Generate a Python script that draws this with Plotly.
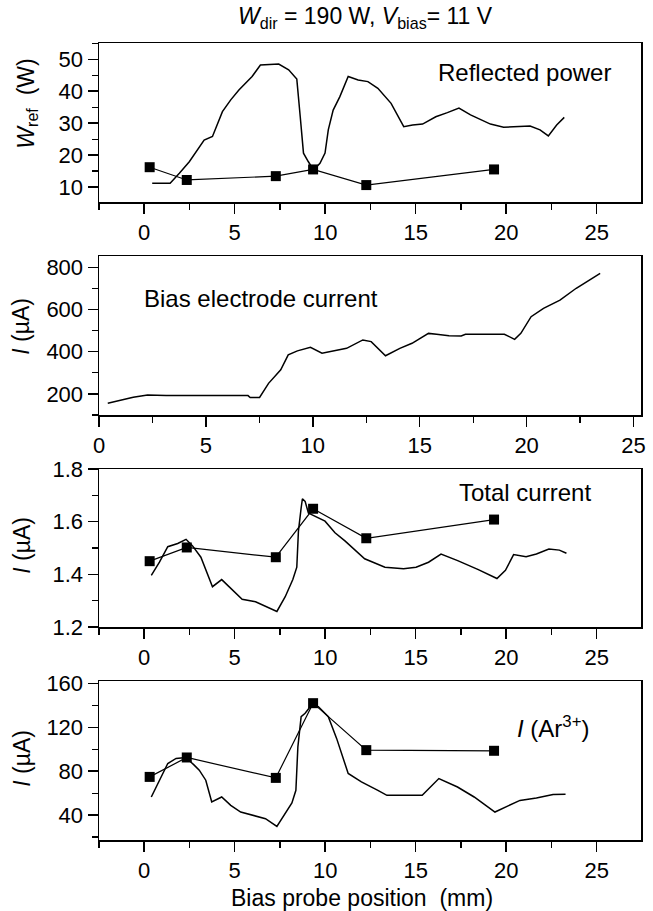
import plotly.graph_objects as go

# ---------------- data ----------------
probe_pos = [0.3, 2.35, 7.27, 9.33, 12.27, 19.33]

ref_x = [0.44, 1.43, 1.94, 2.49, 3.31, 3.77, 4.32, 4.78, 5.23, 5.96, 6.42, 7.06, 7.43, 7.98, 8.43,
         8.62, 8.8, 9.07, 9.36, 9.71, 9.99, 10.17, 10.44, 10.81, 11.27, 11.82, 12.36, 12.91, 13.64,
         14.34, 14.83, 15.38, 16.11, 16.75, 17.39, 18.03, 19.13, 19.86, 20.59, 21.32, 21.87, 22.33,
         22.79, 23.21]
ref_y = [11.2, 11.2, 14.3, 17.9, 24.7, 25.8, 33.6, 37.3, 40.4, 44.6, 48.2, 48.5, 48.5, 46.7, 43.8,
         32, 20.6, 17.9, 15.3, 17.4, 20.6, 27.9, 34.1, 38.3, 44.6, 43.5, 43, 40.9, 36.2,
         28.9, 29.4, 29.7, 32, 33.3, 34.7, 32.6, 29.7, 28.7, 28.9, 29.1, 27.9, 26,
         29.4, 31.8]
ref_probe = [16.2, 12.2, 13.4, 15.5, 10.6, 15.5]

bias_x = [0.41, 1.02, 1.6, 2.27, 3.14, 6.97, 7.07, 7.51, 7.93, 8.5, 8.85, 9.28, 9.89, 10.43, 11.0,
          11.58, 12.34, 12.73, 13.4, 14.07, 14.64, 15.41, 15.79, 16.37, 16.94, 17.14, 18.96, 19.44,
          19.73, 20.21, 20.79, 21.56, 22.32, 23.09, 23.44]
bias_y = [156, 172, 184, 195, 192, 192, 183, 183, 250, 314, 385, 404, 421, 393, 405,
          416, 456, 448, 381, 416, 440, 487, 483, 476, 475, 483, 483, 459,
          487, 566, 606, 645, 701, 748, 772]

tot_x = [0.39, 0.84, 1.3, 1.85, 2.31, 2.67, 3.13, 3.5, 3.77, 4.28, 4.87, 5.41, 6.15, 6.7, 7.33,
         7.79, 8.21, 8.43, 8.52, 8.67, 8.74, 8.89, 9.07, 9.25, 9.99, 10.54, 11.09, 12.18, 12.91,
         13.3, 14.33, 15.02, 15.71, 16.4, 17.32, 18.46, 19.49, 19.96, 20.41, 21.1, 21.67, 22.36,
         22.94, 23.33]
tot_y = [1.396, 1.446, 1.505, 1.517, 1.533, 1.508, 1.465, 1.403, 1.353, 1.38, 1.34, 1.305, 1.296,
         1.278, 1.259, 1.315, 1.38, 1.427, 1.564, 1.652, 1.687, 1.677, 1.633, 1.627, 1.602, 1.558,
         1.527, 1.459, 1.437, 1.427, 1.421, 1.427, 1.446, 1.477, 1.452, 1.418, 1.384, 1.415, 1.475,
         1.467, 1.477, 1.496, 1.492, 1.48]
tot_probe = [1.45, 1.502, 1.465, 1.649, 1.537, 1.608]

ar_x = [0.39, 0.84, 1.3, 1.76, 2.31, 2.76, 3.04, 3.4, 3.73, 4.28, 4.78, 5.33, 5.96, 6.7, 7.33,
        7.79, 8.16, 8.38, 8.49, 8.67, 8.89, 9.25, 9.62, 10.17, 10.63, 11.27, 12.0, 12.91, 13.41,
        15.36, 16.28, 17.31, 18.23, 19.38, 19.96, 20.76, 21.67, 22.59, 23.28]
ar_y = [56.5, 71.8, 87, 91.6, 92.5, 85.5, 80.9, 71.8, 51.9, 56.5, 48.9, 42.8, 39.7, 36.7, 29.7,
        41.3, 51, 62.6, 102.2, 129.7, 132.8, 140.4, 138.9, 129.7, 109.9, 77.9, 70.2, 62.6, 58,
        58, 73.3, 65.6, 56.5, 42.8, 47.3, 53.4, 55.6, 58.7, 59]
ar_probe = [74.8, 92.5, 73.9, 142, 99.2, 98.6]

# ---------------- figure ----------------
FONT = "Liberation Sans, Arial, sans-serif"
W, H = 653, 911
ML, MR, MT, MB = 99, 7, 43, 71
PW, PH = W - ML - MR, H - MT - MB


def px(x):
    return (x - ML) / PW


def py(y):
    return (H - MB - y) / PH


fig = go.Figure()

line_style = dict(color="black", width=1.5)
sq_style = dict(symbol="square", size=10, color="black")

panels = [
    (ref_x, ref_y, ref_probe),
    (bias_x, bias_y, None),
    (tot_x, tot_y, tot_probe),
    (ar_x, ar_y, ar_probe),
]
for i, (cx, cy, sq) in enumerate(panels, start=1):
    xa = "x" if i == 1 else f"x{i}"
    ya = "y" if i == 1 else f"y{i}"
    fig.add_trace(go.Scatter(x=cx, y=cy, mode="lines", line=line_style,
                             xaxis=xa, yaxis=ya, showlegend=False, hoverinfo="skip"))
    if sq is not None:
        fig.add_trace(go.Scatter(x=probe_pos, y=sq, mode="lines+markers",
                                 line=dict(color="black", width=1.2), marker=sq_style,
                                 xaxis=xa, yaxis=ya, showlegend=False, hoverinfo="skip"))

domains = [
    (py(202), py(43)),
    (py(415), py(256)),
    (py(627), py(469)),
    (py(840), py(681)),
]
yranges = [[5.3, 55.1], [100, 854], [1.2, 1.8], [17.3, 162.2]]
ydticks = [(10, 5), (200, 100), (0.2, 0.1), (40, 20)]
xranges = [[-2.5, 27.45], [0, 25.35], [-2.5, 27.45], [-2.5, 27.45]]

axis_common = dict(showline=True, linecolor="black", linewidth=1.5, mirror=True,
                   ticks="outside", ticklen=10, tickwidth=1.5, tickcolor="black",
                   showgrid=False, zeroline=False, ticklabeloverflow="allow",
                   tickfont=dict(family=FONT, size=22, color="black"))

layout = {}
for i in range(1, 5):
    xk = "xaxis" if i == 1 else f"xaxis{i}"
    yk = "yaxis" if i == 1 else f"yaxis{i}"
    ya = "y" if i == 1 else f"y{i}"
    xa = "x" if i == 1 else f"x{i}"
    layout[xk] = dict(axis_common, domain=[0, 1], range=xranges[i - 1], anchor=ya,
                      tick0=0, dtick=5,
                      minor=dict(tick0=0, dtick=2.5, ticks="outside", ticklen=6,
                                 tickwidth=1.2, tickcolor="black", showgrid=False))
    d, m = ydticks[i - 1]
    layout[yk] = dict(axis_common, domain=list(domains[i - 1]), range=yranges[i - 1],
                      anchor=xa, tick0=0, dtick=d,
                      minor=dict(tick0=0, dtick=m, ticks="outside", ticklen=6,
                                 tickwidth=1.2, tickcolor="black", showgrid=False))

fig.update_layout(**layout)

TF = dict(family=FONT, size=23, color="black")
AF = dict(family=FONT, size=24, color="black")
ann = [
    dict(text="<i>W</i><sub>dir</sub> = 190 W, <i>V</i><sub>bias</sub>= 11 V",
         x=px(368), y=py(17), font=TF),
    dict(text="Reflected power", x=px(528), y=py(73), font=AF),
    dict(text="Bias electrode current", x=px(262), y=py(298), font=AF),
    dict(text="Total current", x=px(529), y=py(492), font=AF),
    dict(text="<i>I</i> (Ar<sup>3+</sup>)", x=px(557), y=py(727), font=AF),
    dict(text="<i>W</i><sub>ref</sub>  (W)", x=px(26), y=py(104), font=TF, textangle=-90),
    dict(text="<i>I</i> (µA)", x=px(20), y=py(326), font=TF, textangle=-90),
    dict(text="<i>I</i> (µA)", x=px(21), y=py(545), font=TF, textangle=-90),
    dict(text="<i>I</i> (µA)", x=px(21), y=py(758), font=TF, textangle=-90),
    dict(text="Bias probe position  (mm)", x=px(364), y=py(898), font=TF),
]
for a in ann:
    a.update(xref="paper", yref="paper", showarrow=False, xanchor="center", yanchor="middle")

fig.update_layout(
    width=W, height=H,
    margin=dict(l=ML, r=MR, t=MT, b=MB, pad=0),
    paper_bgcolor="white", plot_bgcolor="white",
    annotations=ann,
    showlegend=False,
    hovermode=False,
)

fig.write_html("out.html",
               config={"displayModeBar": False, "staticPlot": True},
               post_script="document.body.style.margin='0px';document.body.style.overflow='hidden';")
